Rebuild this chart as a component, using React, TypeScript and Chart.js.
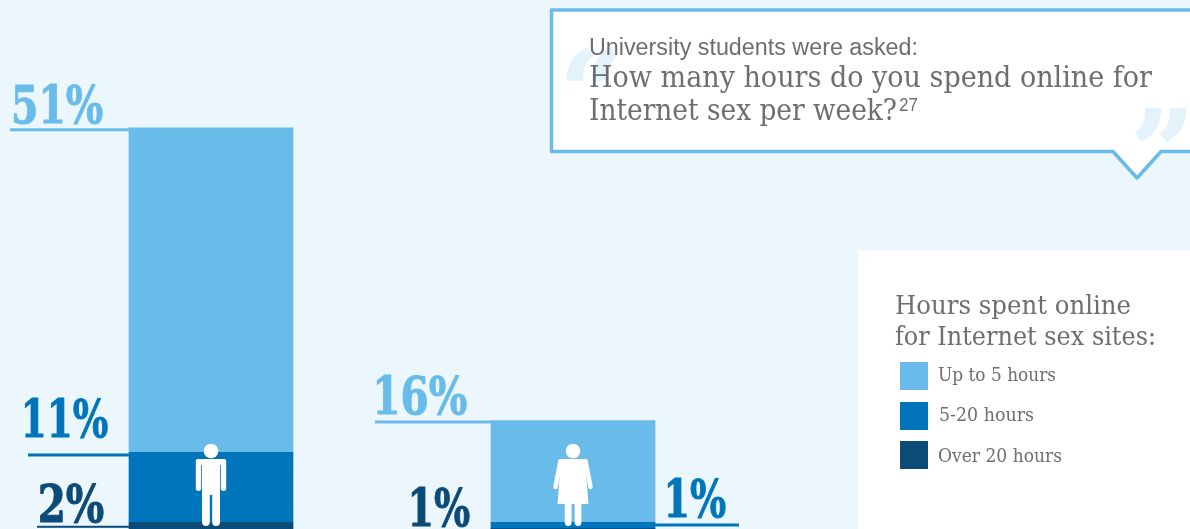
import React, { useEffect, useRef } from "react";
import { Chart, registerables } from "chart.js";

Chart.register(...registerables);

const categories = ["Men", "Women"];
const seriesNames = ["Over 20 hours", "5-20 hours", "Up to 5 hours"];
const over20 = [2, 1];
const from5to20 = [11, 1];
const upTo5 = [51, 16];

const LIGHT = "#69BBE9";
const MID = "#0075BC";
const DARK = "#0C4A77";
const BG = "#EBF6FD";
const GREY = "#6D6E71";
const LABEL_FONT = '"DejaVu Serif"';
const seriesColors = [DARK, MID, LIGHT];

// Legend rows, in the reference's top-to-bottom order
const legendRows = [
  { name: seriesNames[2], color: LIGHT, x: 938, w: 118, base: 381, swatch: 362 },
  { name: seriesNames[1], color: MID, x: 939, w: 95, base: 421, swatch: 402 },
  { name: seriesNames[0], color: DARK, x: 938, w: 124, base: 462, swatch: 441 },
];

// Placement of each value label relative to its bar segment
// ds, idx: segment. side: which side of the bar. len: leader length. over: leader overlap into bar.
const labelStyle = [
  { ds: 2, idx: 0, side: -1, len: 119, over: 0, lineDy: 2, lineW: 3, gap: 26, baseDy: -5, width: 93 },
  { ds: 1, idx: 0, side: -1, len: 101, over: 8, lineDy: 2.7, lineW: 3, gap: 21, baseDy: -15, width: 87 },
  { ds: 0, idx: 0, side: -1, len: 92, over: 0, lineDy: 4.5, lineW: 2, gap: 25, baseDy: 0, width: 68 },
  { ds: 2, idx: 1, side: -1, len: 116, over: 0, lineDy: 1.5, lineW: 3, gap: 24, baseDy: -6, width: 94 },
  { ds: 0, idx: 1, side: -1, len: 0, over: 0, lineDy: 0, lineW: 0, gap: 21, baseDy: -3, width: 62 },
  { ds: 1, idx: 1, side: 1, len: 84, over: 0, lineDy: 2.7, lineW: 3, gap: 9, baseDy: -5, width: 62 },
];

function manIcon(ctx: CanvasRenderingContext2D, x: number, base: number) {
  ctx.beginPath();
  ctx.arc(x, base - 84, 7.3, 0, Math.PI * 2);
  ctx.fill();
  ctx.beginPath();
  ctx.roundRect(x - 15.2, base - 76, 30.4, 6, 2);
  ctx.roundRect(x - 15.2, base - 76, 5.4, 32, 2.7);
  ctx.roundRect(x + 9.8, base - 76, 5.4, 32, 2.7);
  ctx.rect(x - 9, base - 76, 18, 36);
  ctx.roundRect(x - 9, base - 50, 7.8, 41, 3.9);
  ctx.roundRect(x + 1.2, base - 50, 7.8, 41, 3.9);
  ctx.fill();
}

function womanIcon(ctx: CanvasRenderingContext2D, x: number, base: number) {
  ctx.beginPath();
  ctx.arc(x, base - 84, 7.3, 0, Math.PI * 2);
  ctx.fill();
  ctx.beginPath();
  ctx.moveTo(x - 12, base - 76);
  ctx.lineTo(x + 12, base - 76);
  ctx.lineTo(x + 15.5, base - 31);
  ctx.lineTo(x - 15.5, base - 31);
  ctx.closePath();
  ctx.fill();
  ctx.lineCap = "round";
  ctx.lineWidth = 4.5;
  ctx.strokeStyle = "#fff";
  ctx.beginPath();
  ctx.moveTo(x - 12.5, base - 74);
  ctx.lineTo(x - 17.5, base - 48);
  ctx.moveTo(x + 12.5, base - 74);
  ctx.lineTo(x + 17.5, base - 48);
  ctx.stroke();
  ctx.beginPath();
  ctx.roundRect(x - 8.2, base - 35, 6.8, 26, 3.4);
  ctx.roundRect(x + 1.6, base - 35, 6.8, 26, 3.4);
  ctx.fill();
}

const decorations = {
  id: "decorations",
  afterDatasetsDraw(chart: any) {
    const ctx: CanvasRenderingContext2D = chart.ctx;
    const base = chart.scales.y.getPixelForValue(0);
    ctx.save();
    labelStyle.forEach((s) => {
      const bar = chart.getDatasetMeta(s.ds).data[s.idx];
      const color = seriesColors[s.ds];
      const half = bar.width / 2;
      const edge = bar.x + s.side * half;
      const value = chart.data.datasets[s.ds].data[s.idx];
      if (s.len > 0) {
        ctx.fillStyle = color;
        const x0 = s.side < 0 ? edge - s.len : edge - s.over;
        const wid = s.len + s.over;
        ctx.fillRect(x0, bar.y + s.lineDy - s.lineW / 2, wid, s.lineW);
      }
      ctx.fillStyle = color;
      ctx.strokeStyle = color;
      ctx.lineWidth = 1;
      ctx.lineJoin = "round";
      ctx.font = `bold 52px ${LABEL_FONT}`;
      ctx.textBaseline = "alphabetic";
      ctx.textAlign = "left";
      const text = `${value}%`;
      const m = ctx.measureText(text);
      const inkW = m.actualBoundingBoxRight + m.actualBoundingBoxLeft;
      const k = (s.width - 4) / inkW;
      const left = (s.side < 0 ? edge - s.gap - s.width : edge + s.gap) + 4;
      ctx.save();
      ctx.translate(left, bar.y + s.baseDy);
      ctx.scale(k, 1);
      ctx.fillText(text, m.actualBoundingBoxLeft, 0);
      ctx.strokeText(text, m.actualBoundingBoxLeft, 0);
      ctx.restore();
    });
    ctx.fillStyle = "#fff";
    const m0 = chart.getDatasetMeta(2).data[0];
    const m1 = chart.getDatasetMeta(2).data[1];
    manIcon(ctx, m0.x, base);
    womanIcon(ctx, m1.x, base);
    ctx.restore();
  },
};

export default function App() {
  const ref = useRef<HTMLCanvasElement>(null);

  useEffect(() => {
    document.body.style.margin = "0";
    document.body.style.background = BG;
    const chart = new Chart(ref.current!, {
      type: "bar",
      data: {
        labels: categories,
        datasets: [
          { label: seriesNames[0], data: over20, backgroundColor: DARK },
          { label: seriesNames[1], data: from5to20, backgroundColor: MID },
          { label: seriesNames[2], data: upTo5, backgroundColor: LIGHT },
        ],
      },
      options: {
        animation: false,
        responsive: false,
        layout: { padding: { left: 30, right: 436, top: 26, bottom: 1 } },
        datasets: { bar: { barThickness: 164, borderWidth: 0 } },
        plugins: { legend: { display: false }, tooltip: { enabled: false } },
        scales: {
          x: { stacked: true, display: false },
          y: { stacked: true, display: false, min: 0, max: 80 },
        },
      },
      plugins: [decorations],
    } as any);
    return () => chart.destroy();
  }, []);

  const serif = "'DejaVu Serif', serif";
  const sans = "'Liberation Sans', sans-serif";
  return (
    <div style={{ position: "relative", width: 1190, height: 529, overflow: "hidden", background: BG }}>
      <canvas ref={ref} width={1190} height={536} style={{ position: "absolute", left: 0, top: 0 }} />
      <svg width={1190} height={529} style={{ position: "absolute", left: 0, top: 0 }}>
        <path
          d="M1194,10 H551.5 V151.5 H1113 L1137,178 L1161,151.5 H1194"
          fill="#fff"
          stroke={LIGHT}
          strokeWidth={3.5}
          strokeLinejoin="round"
        />
        <text x={560} y={130} fontFamily={serif} fontWeight={700} fontSize={110} fill="#E3F3FC" stroke="#E3F3FC" strokeWidth={2}>“</text>
        <text x={1131} y={190} fontFamily={serif} fontWeight={700} fontSize={110} fill="#E3F3FC" stroke="#E3F3FC" strokeWidth={2}>”</text>
        <text x={589} y={55} fontFamily={sans} fontSize={23} fill={GREY} textLength={329} lengthAdjust="spacingAndGlyphs">University students were asked:</text>
        <text x={589} y={87} fontFamily={serif} fontSize={29} fill={GREY} textLength={563} lengthAdjust="spacingAndGlyphs">How many hours do you spend online for</text>
        <text x={589} y={120} fontFamily={serif} fontSize={29} fill={GREY} textLength={308} lengthAdjust="spacingAndGlyphs">Internet sex per week?</text>
        <text x={899} y={111} fontFamily={sans} fontSize={18} fill={GREY} textLength={19} lengthAdjust="spacingAndGlyphs">27</text>

        <rect x={858} y={250} width={332} height={279} fill="#fff" />
        <text x={895} y={314} fontFamily={serif} fontSize={26} fill={GREY} textLength={236} lengthAdjust="spacingAndGlyphs">Hours spent online</text>
        <text x={895} y={345} fontFamily={serif} fontSize={26} fill={GREY} textLength={261} lengthAdjust="spacingAndGlyphs">for Internet sex sites:</text>
        {legendRows.map((r) => (
          <g key={r.name}>
            <rect x={900} y={r.swatch} width={28} height={28} fill={r.color} />
            <text x={r.x} y={r.base} fontFamily={serif} fontSize={18} fill={GREY} textLength={r.w} lengthAdjust="spacingAndGlyphs">{r.name}</text>
          </g>
        ))}
      </svg>
    </div>
  );
}
